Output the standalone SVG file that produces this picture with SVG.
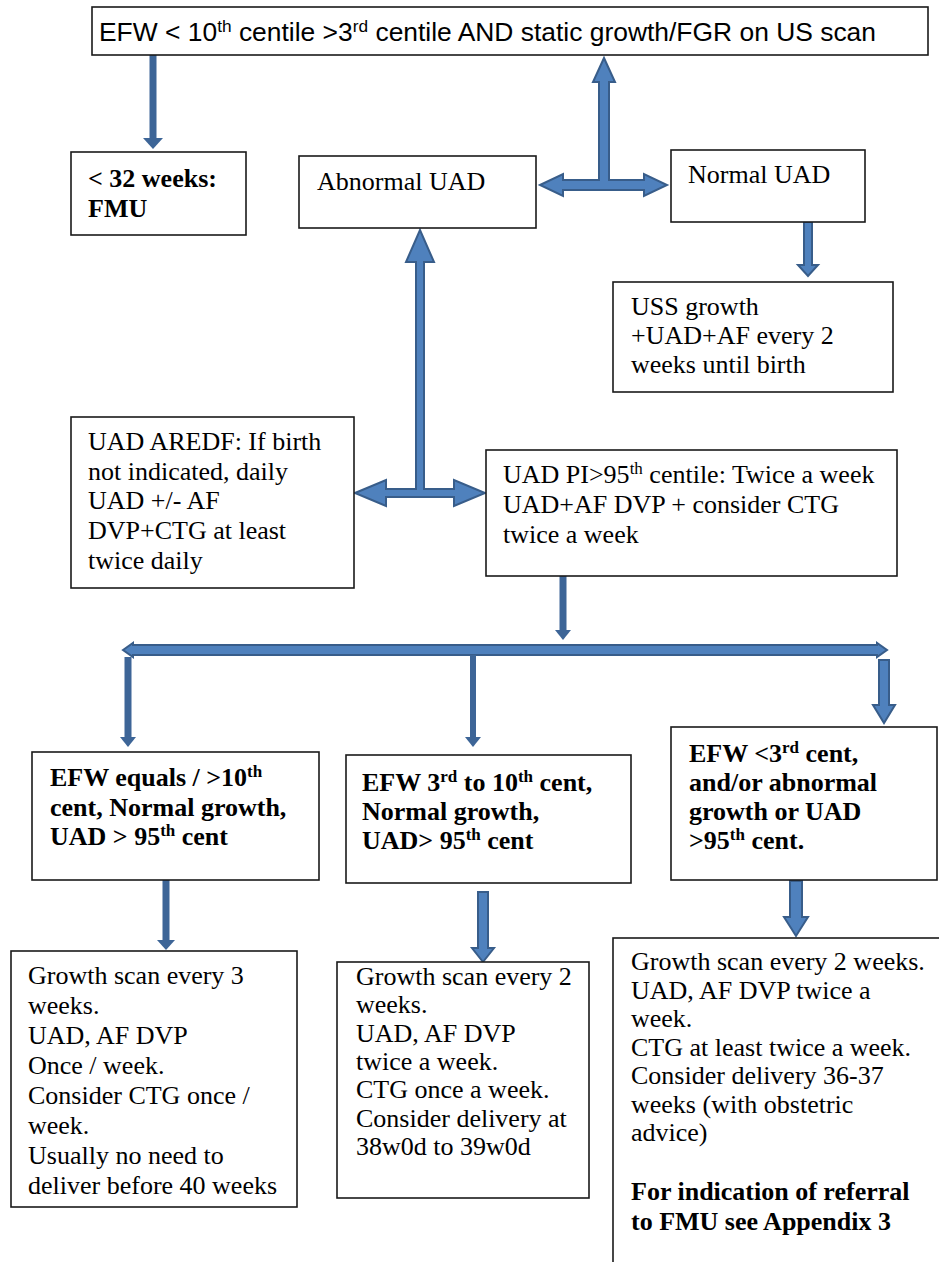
<svg xmlns="http://www.w3.org/2000/svg" width="939" height="1262" viewBox="0 0 939 1262">
<style>
.box{fill:#fff;stroke:#1a1a1a;stroke-width:1.6}
.t{font-family:"Liberation Serif","Times New Roman",serif;font-size:26px;fill:#000}
.b{font-weight:bold}
.s{font-family:"Liberation Sans",Arial,sans-serif;font-size:26px;fill:#000}
.sup{font-size:17px}
.solid{fill:#3d6597;stroke:none}
.blk{fill:#4f81bd;stroke:#385d8a;stroke-width:2;stroke-linejoin:miter}
</style>
<rect width="939" height="1262" fill="#fff"/>
<g id="connectors">
  <rect class="solid" x="149.5" y="55" width="7" height="84"/>
  <polygon class="solid" points="143,138 163,138 153,149"/>
  <polygon class="blk" points="540,185 563,174 563,180 599,180 599,82 593,82 604,58 615,82 609,82 609,180 644,180 644,174 667,185 644,196 644,190 563,190 563,196"/>
  <polygon class="blk" points="804,222 812,222 812,265 818,265 808,276 798,265 804,265"/>
  <polygon class="blk" points="355,493 386,480 386,489 416,489 416,262 406,262 420,230 434,262 424,262 424,489 454,489 454,480 485,493 454,506 454,497 386,497 386,506"/>
  <rect class="solid" x="559.5" y="576" width="7" height="55"/>
  <polygon class="solid" points="555,630 571,630 563,640"/>
  <polygon class="blk" points="123,650 133,643 133,645 877,645 877,643 887,650 877,657 877,655 133,655 133,657"/>
  <rect class="solid" x="124.5" y="657" width="7" height="81"/>
  <polygon class="solid" points="120,737 136,737 128,747"/>
  <rect class="solid" x="470" y="655" width="6" height="83"/>
  <polygon class="solid" points="465,737 481,737 473,747"/>
  <polygon class="blk" points="879,660 889,660 889,705 895,705 884,723 873,705 879,705"/>
  <rect class="solid" x="162.5" y="880" width="7" height="61"/>
  <polygon class="solid" points="157,940 175,940 166,950"/>
  <polygon class="blk" points="478,892 488,892 488,948 494,948 483,962 472,948 478,948"/>
  <polygon class="blk" points="790,881 802,881 802,917 808,917 796,936 784,917 790,917"/>
</g>
<g id="n-top">
  <rect class="box" x="92" y="7" width="836" height="48"/>
  <text class="s" x="99" y="41" textLength="777" lengthAdjust="spacingAndGlyphs">EFW &lt; 10<tspan class="sup" dy="-9">th</tspan><tspan dy="9"> centile &gt;3</tspan><tspan class="sup" dy="-9">rd</tspan><tspan dy="9"> centile AND static growth/FGR on US scan</tspan></text>
</g>
<g id="n-fmu">
  <rect class="box" x="71" y="152" width="175" height="83"/>
  <text class="t b" x="88" y="187">&lt; 32 weeks:</text>
  <text class="t b" x="88" y="217">FMU</text>
</g>
<g id="n-abnormal">
  <rect class="box" x="299" y="156" width="237" height="72"/>
  <text class="t" x="317" y="190">Abnormal UAD</text>
</g>
<g id="n-normal">
  <rect class="box" x="671" y="150" width="194" height="72"/>
  <text class="t" x="688" y="183">Normal UAD</text>
</g>
<g id="n-uss">
  <rect class="box" x="613" y="282" width="280" height="110"/>
  <text class="t" x="631" y="315">USS growth</text>
  <text class="t" x="631" y="344">+UAD+AF every 2</text>
  <text class="t" x="631" y="373">weeks until birth</text>
</g>
<g id="n-aredf">
  <rect class="box" x="71" y="417" width="283" height="171"/>
  <text class="t" x="88" y="450">UAD AREDF: If birth</text>
  <text class="t" x="88" y="480">not indicated, daily</text>
  <text class="t" x="88" y="509">UAD +/- AF</text>
  <text class="t" x="88" y="539">DVP+CTG at least</text>
  <text class="t" x="88" y="569">twice daily</text>
</g>
<g id="n-pi">
  <rect class="box" x="486" y="450" width="411" height="126"/>
  <text class="t" x="503" y="483">UAD PI&gt;95<tspan class="sup" dy="-9">th</tspan><tspan dy="9"> centile: Twice a week</tspan></text>
  <text class="t" x="503" y="513">UAD+AF DVP + consider CTG</text>
  <text class="t" x="503" y="543">twice a week</text>
</g>
<g id="n-box1">
  <rect class="box" x="32" y="752" width="287" height="128"/>
  <text class="t b" x="50" y="786">EFW equals / &gt;10<tspan class="sup" dy="-9">th</tspan></text>
  <text class="t b" x="50" y="816">cent, Normal growth,</text>
  <text class="t b" x="50" y="845">UAD &gt; 95<tspan class="sup" dy="-9">th</tspan><tspan dy="9"> cent</tspan></text>
</g>
<g id="n-box2">
  <rect class="box" x="346" y="755" width="285" height="128"/>
  <text class="t b" x="362" y="791">EFW 3<tspan class="sup" dy="-9">rd</tspan><tspan dy="9"> to 10</tspan><tspan class="sup" dy="-9">th</tspan><tspan dy="9"> cent,</tspan></text>
  <text class="t b" x="362" y="820">Normal growth,</text>
  <text class="t b" x="362" y="849">UAD&gt; 95<tspan class="sup" dy="-9">th</tspan><tspan dy="9"> cent</tspan></text>
</g>
<g id="n-box3">
  <rect class="box" x="671" y="727" width="266" height="153"/>
  <text class="t b" x="689" y="762">EFW &lt;3<tspan class="sup" dy="-9">rd</tspan><tspan dy="9"> cent,</tspan></text>
  <text class="t b" x="689" y="791">and/or abnormal</text>
  <text class="t b" x="689" y="820">growth or UAD</text>
  <text class="t b" x="689" y="849">&gt;95<tspan class="sup" dy="-9">th</tspan><tspan dy="9"> cent.</tspan></text>
</g>
<g id="n-bottom1">
  <rect class="box" x="11" y="951" width="286" height="256"/>
  <text class="t" x="28" y="984">Growth scan every 3</text>
  <text class="t" x="28" y="1014">weeks.</text>
  <text class="t" x="28" y="1044">UAD, AF DVP</text>
  <text class="t" x="28" y="1074">Once / week.</text>
  <text class="t" x="28" y="1104">Consider CTG once /</text>
  <text class="t" x="28" y="1134">week.</text>
  <text class="t" x="28" y="1164">Usually no need to</text>
  <text class="t" x="28" y="1194">deliver before 40 weeks</text>
</g>
<g id="n-bottom2">
  <rect class="box" x="337" y="962" width="252" height="236"/>
  <text class="t" x="356" y="985">Growth scan every 2</text>
  <text class="t" x="356" y="1013">weeks.</text>
  <text class="t" x="356" y="1042">UAD, AF DVP</text>
  <text class="t" x="356" y="1070">twice a week.</text>
  <text class="t" x="356" y="1098">CTG once a week.</text>
  <text class="t" x="356" y="1127">Consider delivery at</text>
  <text class="t" x="356" y="1155">38w0d to 39w0d</text>
</g>
<g id="n-bottom3">
  <rect class="box" x="613" y="938" width="345" height="345"/>
  <text class="t" x="631" y="970">Growth scan every 2 weeks.</text>
  <text class="t" x="631" y="999">UAD, AF DVP twice a</text>
  <text class="t" x="631" y="1027">week.</text>
  <text class="t" x="631" y="1056">CTG at least twice a week.</text>
  <text class="t" x="631" y="1084">Consider delivery 36-37</text>
  <text class="t" x="631" y="1113">weeks (with obstetric</text>
  <text class="t" x="631" y="1141">advice)</text>
  <text class="t b" x="631" y="1200">For indication of referral</text>
  <text class="t b" x="631" y="1230">to FMU see Appendix 3</text>
</g>
</svg>
